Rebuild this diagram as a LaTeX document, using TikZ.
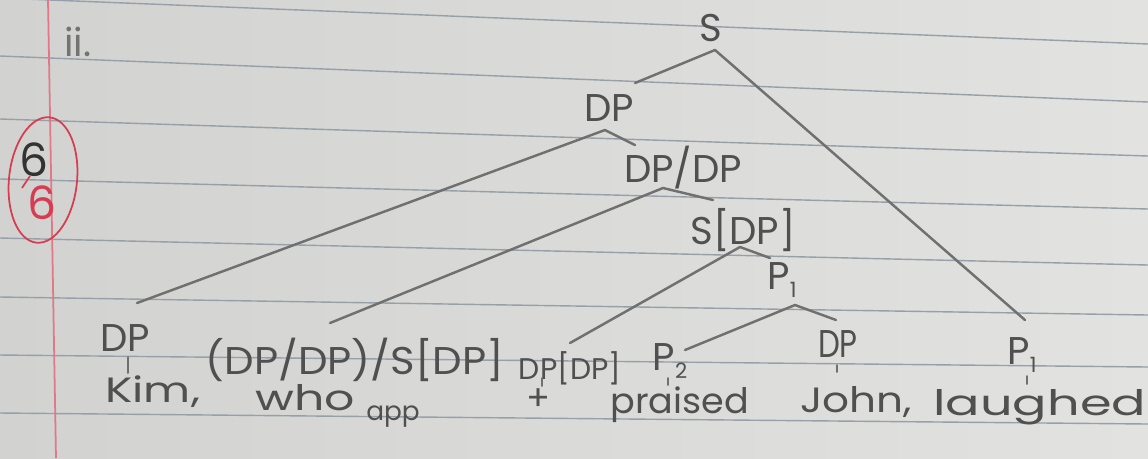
\documentclass[tikz,border=0pt]{standalone}
\usepackage{fontspec}
\newfontfamily\hand{Poppins}
\definecolor{paper}{RGB}{226,226,224}
\definecolor{paperdark}{RGB}{210,210,208}
\definecolor{ruled}{RGB}{150,160,170}
\definecolor{margin}{RGB}{226,120,135}
\definecolor{pencilc}{RGB}{112,112,112}
\definecolor{pencilt}{RGB}{80,80,80}
\definecolor{redpen}{RGB}{215,60,80}
\newcommand{\subnum}[1]{\raisebox{-0.22em}{\fontsize{12}{12}\selectfont #1}}
\begin{document}
\begin{tikzpicture}[x=0.02cm,y=-0.02cm,
  pencil/.style={draw=pencilc, line width=1.4pt, line cap=round, line join=round},
  tick/.style={draw=pencilc, line width=1.1pt, line cap=round},
  lbl/.style={font=\hand\fontsize{22}{24}\selectfont, text=pencilt, inner sep=0pt},
  small/.style={font=\hand\fontsize{17}{19}\selectfont, text=pencilt, inner sep=0pt},
  word/.style={font=\hand\fontsize{20}{22}\selectfont, text=pencilt, inner sep=0pt, anchor=base west},
  rule/.style={draw=ruled, line width=0.8pt}]
\useasboundingbox (0,0) rectangle (1148,458);
% paper
\shade[left color=paperdark, right color=paper] (0,0) rectangle (1148,458);
% ruled lines
\draw[rule] (0,-2) -- (1148,44);
\draw[rule] (0,56) -- (1148,102);
\draw[rule] (0,119) -- (1148,156);
\draw[rule] (0,179) -- (1148,209);
\draw[rule] (0,238) -- (1148,265);
\draw[rule] (0,297) -- (1148,315);
\draw[rule] (0,355) -- (1148,367);
\draw[rule] (0,413) -- (1148,424);
% margin
\draw[draw=margin, line width=1pt] (48,0) -- (56,458);
% grade
\draw[draw=redpen, line width=1pt, rotate around={-6:(43,180)}] (43,180) ellipse [x radius=34, y radius=63];
\node[font=\hand\fontsize{26}{28}\selectfont, text=black!80, inner sep=0pt] (num) at (34,160) {6};
\draw[draw=redpen, line width=1pt] (22,188) -- (30,176);
\node[font=\hand\fontsize{26}{28}\selectfont, text=redpen, inner sep=0pt] (den) at (42,203) {6};
% heading
\node[lbl, text=pencilt!80] (ii) at (78,42) {ii.};
% internal nodes
\node[lbl] (S) at (711,28) {S};
\node[lbl] (DPt) at (609,108) {DP};
\node[lbl] (DPDP) at (683,168) {DP/DP};
\node[lbl] (SDP) at (743,230) {S[DP]};
\node[lbl] (Pin) at (782,280) {P\subnum{1}};
% leaf categories
\node[lbl] (DPk) at (125,338) {DP};
\node[lbl] (rel) at (355,360) {\scalebox{1.08}[1]{(DP/DP)/S[DP]}};
\node[small] (gap) at (570,368) {DP[DP]};
\node[lbl] (Ptwo) at (670,361) {P\subnum{2}};
\node[lbl] (DPj) at (838,344) {\scalebox{0.8}[1]{DP}};
\node[lbl] (Pone) at (1022,355) {P\subnum{1}};
% words
\node[word] (kim) at (105,402) {\scalebox{1.3}[1]{Kim,}};
\node[word] (who) at (255,410) {\scalebox{1.35}[1]{who}};
\node[word, font=\hand\fontsize{15}{17}\selectfont] (app) at (366,420) {app};
\node[word, anchor=center] (plus) at (538,400) {+};
\node[word] (praised) at (610,413) {\scalebox{1.04}[1]{praised}};
\node[word] (john) at (800,412) {\scalebox{1.2}[1]{John,}};
\node[word] (laughed) at (933,415) {\scalebox{1.45}[1]{laughed}};
% branch points and ends
\coordinate (pS) at (715,50);
\coordinate (eSl) at (635,83);
\coordinate (eSr) at (1025,320);
\coordinate (pDP) at (605,130);
\coordinate (eDPl) at (137,303);
\coordinate (eDPr) at (635,145);
\coordinate (pDD) at (663,188);
\coordinate (eDDl) at (330,323);
\coordinate (eDDr) at (713,200);
\coordinate (pSD) at (740,247);
\coordinate (eSDl) at (570,343);
\coordinate (eSDr) at (770,258);
\coordinate (pP) at (795,305);
\coordinate (ePl) at (685,350);
\coordinate (ePr) at (836,320);
\draw[pencil] (eSl) -- (pS) -- (eSr);
\draw[pencil] (eDPl) -- (pDP) -- (eDPr);
\draw[pencil] (eDDl) -- (pDD) -- (eDDr);
\draw[pencil] (eSDl) -- (pSD) -- (eSDr);
\draw[pencil] (ePl) -- (pP) -- (ePr);
% ticks between category and word
\draw[tick] (128,357) -- (128,373);
\draw[tick] (542,378) -- (542,386);
\draw[tick] (668,378) -- (668,385);
\draw[tick] (837,365) -- (837,372);
\draw[tick] (1027,376) -- (1027,384);
\end{tikzpicture}
\end{document}
